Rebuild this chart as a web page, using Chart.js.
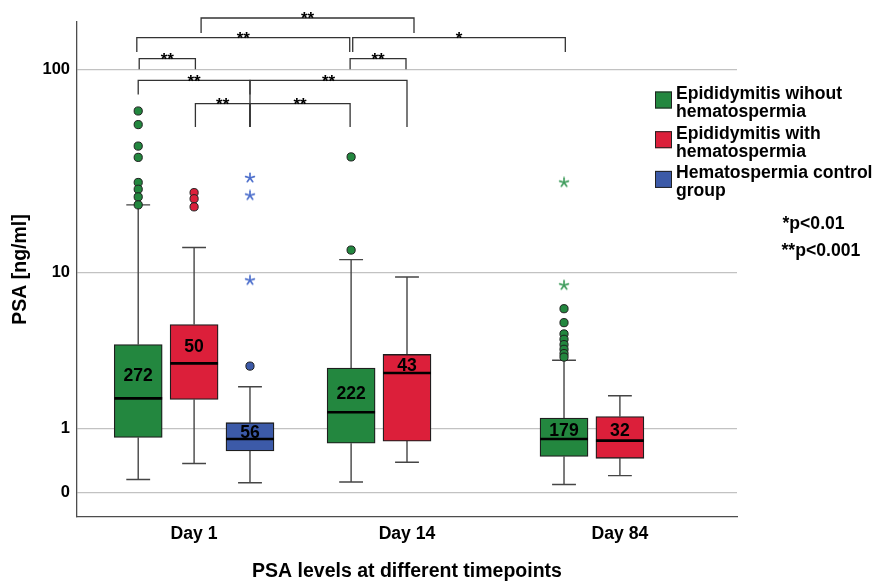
<!DOCTYPE html>
<html><head><meta charset="utf-8">
<script src="https://cdn.jsdelivr.net/npm/chart.js@4"></script>
<style>html,body{margin:0;padding:0;background:#fff}#wrap{width:881px;height:581px}</style>
</head><body><div id="wrap"><canvas id="c" width="881" height="581"></canvas></div>
<script>
// ---------------- data ----------------
const categories = ['Day 1', 'Day 14', 'Day 84'];
const seriesNames = [['Epididymitis wihout', 'hematospermia'], ['Epididymitis with', 'hematospermia'], ['Hematospermia control', 'group']];
// five-number summaries [min, q1, median, q3, max] per category (null = group not measured)
const greenStats = [[0.15, 0.82, 1.79, 4.02, 22.1], [0.12, 0.71, 1.40, 2.89, 11.7], [0.09, 0.48, 0.79, 1.25, 3.23]];
const redStats   = [[0.37, 1.76, 3.09, 5.25, 13.5], [0.39, 0.75, 2.68, 3.51, 9.5], [0.20, 0.45, 0.76, 1.29, 1.87]];
const blueStats  = [[0.11, 0.57, 0.79, 1.14, 2.17], null, null];
const greenN = [272, 222, 179];
const redN = [50, 43, 32];
const blueN = [56, null, null];
const greenOutliers = [[63.4, 54.5, 42.9, 37.8, 28.5, 26.4, 24.2, 22.1], [38.0, 13.1], [6.43, 5.38, 4.64, 4.32, 4.02, 3.77, 3.55, 3.38]];
const redOutliers   = [[25.4, 23.7, 21.6], [], []];
const blueOutliers  = [[2.97], [], []];
const greenExtremes = [[], [], [28.5, 8.6]];
const redExtremes   = [[], [], []];
const blueExtremes  = [[30.0, 24.6, 9.13], [], []];
const yTickValues = [0, 1, 10, 100];
const pNotes = ['*p<0.01', '**p<0.001'];
// significance comparisons: [category, series] to [category, series]
const comparisons = [
  {a: [0, 1], b: [1, 1], label: '**', row: 0},
  {a: [0, 0], b: [1, 0], label: '**', row: 1},
  {a: [1, 0], b: [2, 0], label: '*',  row: 1},
  {a: [0, 0], b: [0, 1], label: '**', row: 2},
  {a: [1, 0], b: [1, 1], label: '**', row: 2},
  {a: [0, 0], b: [0, 2], label: '**', row: 3},
  {a: [0, 2], b: [1, 1], label: '**', row: 3},
  {a: [0, 1], b: [0, 2], label: '**', row: 4},
  {a: [0, 2], b: [1, 0], label: '**', row: 4}
];

// ---------------- styling / layout ----------------
const FONT = '"Liberation Sans", Arial, Helvetica, sans-serif';
const seriesColors = ['#23873f', '#dc1f3a', '#3c5aa8'];
const starColors = ['#3f9c5c', '#dc1f3a', '#4d6fcc'];
const SLOT = [-0.2625, 0, 0.2625];
const BOX_HALF = 0.1125, CAP_HALF = 0.056;
// bracket geometry on the transformed axis: line level, leg ends
const ROWS = [
  {y: 2.250, legA: 2.179, legB: 2.179},
  {y: 2.157, legA: 2.089, legB: 2.089},
  {y: 2.057, legA: 2.007, legB: 2.007},
  {y: 1.954, legA: 1.887, legB: 1.733},
  {y: 1.844, legA: 1.733, legB: 1.733}
];
const NUDGE = [[7, 7], [-1.4, -1.4], [1.6, 1.3], [1, 1.3], [-1, -1], [0, 0], [0, 0], [1.3, 0], [0, -1]];

const T = v => Math.log10(v + 1);
const xOf = (ci, si) => ci + SLOT[si];
const allStats = [greenStats, redStats, blueStats];
const allN = [greenN, redN, blueN];
const allOut = [greenOutliers, redOutliers, blueOutliers];
const allExt = [greenExtremes, redExtremes, blueExtremes];

function makeStar(color) {
  const c = document.createElement('canvas');
  c.width = 12; c.height = 12;
  const g = c.getContext('2d');
  g.strokeStyle = color; g.lineWidth = 1.7; g.lineCap = 'round';
  for (let k = 0; k < 5; k++) {
    const a = -Math.PI / 2 + k * 2 * Math.PI / 5;
    g.beginPath(); g.moveTo(6, 6); g.lineTo(6 + 4.6 * Math.cos(a), 6 + 4.6 * Math.sin(a)); g.stroke();
  }
  return c;
}

const datasets = [];
const whiskerPts = [], medianPts = [];
allStats.forEach((stats, si) => {
  const boxes = [];
  stats.forEach((s, ci) => {
    if (!s) return;
    const c = xOf(ci, si);
    boxes.push({x: c, y: [T(s[1]), T(s[3])]});
    whiskerPts.push({x: c, y: T(s[0])}, {x: c, y: T(s[1])}, {x: c, y: null},
                    {x: c, y: T(s[3])}, {x: c, y: T(s[4])}, {x: c, y: null},
                    {x: c - CAP_HALF, y: T(s[0])}, {x: c + CAP_HALF, y: T(s[0])}, {x: c, y: null},
                    {x: c - CAP_HALF, y: T(s[4])}, {x: c + CAP_HALF, y: T(s[4])}, {x: c, y: null});
    medianPts.push({x: c - BOX_HALF, y: T(s[2])}, {x: c + BOX_HALF, y: T(s[2])}, {x: c, y: null});
  });
  datasets.push({type: 'bar', data: boxes, backgroundColor: seriesColors[si], borderColor: '#1e1e1e',
    borderWidth: 1.3, borderSkipped: false, barThickness: 48, grouped: false, order: 3});
});
datasets.push({type: 'line', data: whiskerPts, borderColor: '#454545', borderWidth: 1.4, pointRadius: 0,
  spanGaps: false, fill: false, order: 4, borderCapStyle: 'butt'});
datasets.push({type: 'line', data: medianPts, borderColor: '#000', borderWidth: 2.6, pointRadius: 0,
  spanGaps: false, fill: false, order: 2, borderCapStyle: 'butt'});
allOut.forEach((outs, si) => {
  const pts = [];
  outs.forEach((arr, ci) => arr.forEach(v => pts.push({x: xOf(ci, si), y: T(v)})));
  datasets.push({type: 'scatter', data: pts, pointStyle: 'circle', pointRadius: 4.1,
    backgroundColor: seriesColors[si], borderColor: '#1e1e1e', borderWidth: 1, order: 1, clip: false});
});
allExt.forEach((exts, si) => {
  const pts = [];
  exts.forEach((arr, ci) => arr.forEach(v => pts.push({x: xOf(ci, si), y: T(v)})));
  datasets.push({type: 'scatter', data: pts, pointStyle: makeStar(starColors[si]), pointRadius: 5,
    order: 1, clip: false});
});

const annotPlugin = {
  id: 'annot',
  afterDatasetsDraw(chart) {
    const ctx = chart.ctx, xs = chart.scales.x, ys = chart.scales.y;
    ctx.save();
    // N labels
    ctx.font = 'bold 17.6px ' + FONT;
    ctx.fillStyle = '#000'; ctx.textAlign = 'center'; ctx.textBaseline = 'middle';
    allStats.forEach((stats, si) => stats.forEach((s, ci) => {
      if (!s) return;
      const px = xs.getPixelForValue(xOf(ci, si));
      const yq3 = ys.getPixelForValue(T(s[3])), ym = ys.getPixelForValue(T(s[2]));
      ctx.fillText(String(allN[si][ci]), px, yq3 + 0.56 * (ym - yq3) + 1);
    }));
    // brackets
    ctx.strokeStyle = '#333'; ctx.lineWidth = 1.3;
    ctx.font = 'bold 17px ' + FONT; ctx.textBaseline = 'alphabetic';
    comparisons.forEach((cmp, i) => {
      const r = ROWS[cmp.row];
      const xa = xs.getPixelForValue(xOf(cmp.a[0], cmp.a[1])) + NUDGE[i][0];
      const xb = xs.getPixelForValue(xOf(cmp.b[0], cmp.b[1])) + NUDGE[i][1];
      const y = ys.getPixelForValue(r.y);
      ctx.beginPath();
      ctx.moveTo(xa, ys.getPixelForValue(r.legA)); ctx.lineTo(xa, y); ctx.lineTo(xb, y);
      ctx.lineTo(xb, ys.getPixelForValue(cmp.row === 3 && i === 5 ? r.legB : (cmp.row === 3 ? r.legB : r.legB)));
      ctx.stroke();
      ctx.fillStyle = '#000';
      ctx.fillText(cmp.label, (xa + xb) / 2, y + 6.5);
    });
    // legend
    ctx.textAlign = 'left'; ctx.textBaseline = 'alphabetic';
    ctx.font = 'bold 17.6px ' + FONT;
    const LX = 655, LY = 99, ITEM = 39.7, LINE = 18;
    seriesNames.forEach((lines, i) => {
      const by = LY + i * ITEM;
      ctx.fillStyle = seriesColors[i];
      ctx.fillRect(LX, by - 7.5, 17, 17);
      ctx.strokeStyle = '#222'; ctx.lineWidth = 1;
      ctx.strokeRect(LX + 0.5, by - 7, 16, 16);
      ctx.fillStyle = '#000';
      lines.forEach((t, k) => ctx.fillText(t, LX + 21, by + k * LINE));
    });
    ctx.fillText(pNotes[0], 782.5, 229);
    ctx.fillText(pNotes[1], 781.5, 255.5);
    ctx.restore();
  }
};

new Chart(document.getElementById('c'), {
  type: 'bar',
  data: {datasets},
  plugins: [annotPlugin],
  options: {
    responsive: false, animation: false, devicePixelRatio: 1, events: [],
    layout: {padding: {top: 22, right: 144, left: 0, bottom: 0}},
    plugins: {legend: {display: false}, tooltip: {enabled: false}},
    scales: {
      x: {
        type: 'linear', min: -0.55, max: 2.55, offset: false,
        grid: {display: false, drawTicks: false},
        border: {display: true, color: '#4d4d4d', width: 1.3},
        afterBuildTicks: s => { s.ticks = categories.map((c, i) => ({value: i})); },
        afterFit: s => { s.height = 64; },
        ticks: {autoSkip: false, maxRotation: 0, padding: 7, color: '#000',
          font: {family: FONT, size: 17.6, weight: 'bold'},
          callback: (v, i) => categories[i]},
        title: {display: true, text: 'PSA levels at different timepoints', color: '#000',
          font: {family: FONT, size: 19.5, weight: 'bold', lineHeight: 1}, padding: {top: 0, bottom: 0}}
      },
      y: {
        type: 'linear', min: -0.117, max: 2.231,
        grid: {display: true, drawTicks: false, color: '#c2c2c2', lineWidth: 1.3},
        border: {display: true, color: '#4d4d4d', width: 1.3},
        afterBuildTicks: s => { s.ticks = yTickValues.map(v => ({value: T(v)})); },
        afterFit: s => { s.width = 77; },
        ticks: {autoSkip: false, padding: 7, color: '#000',
          font: {family: FONT, size: 16.5, weight: 'bold'},
          callback: (v, i) => String(yTickValues[i])},
        title: {display: true, text: 'PSA [ng/ml]', color: '#000',
          font: {family: FONT, size: 19.5, weight: 'bold', lineHeight: 1}, padding: {top: 11, bottom: 0}}
      }
    }
  }
});
</script></body></html>
